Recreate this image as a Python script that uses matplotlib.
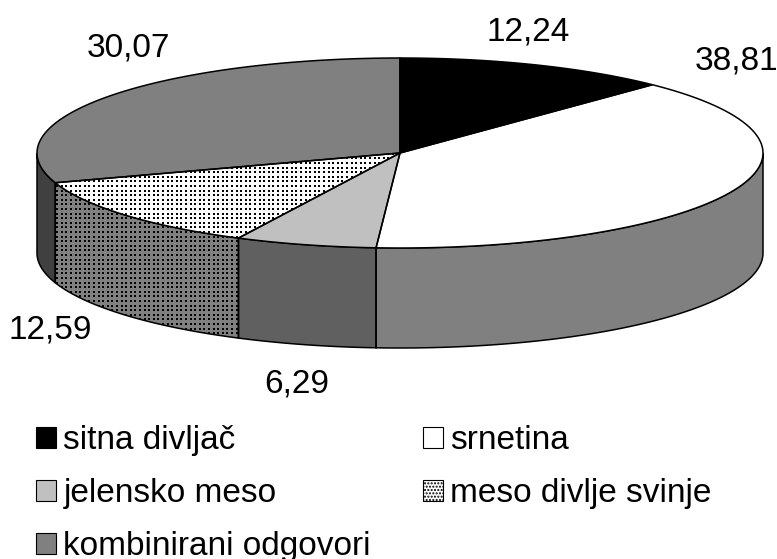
import numpy as np
import matplotlib
matplotlib.use('Agg')
import matplotlib.pyplot as plt
from matplotlib.patches import Patch, Polygon

plt.rcParams['font.family'] = ['Liberation Sans', 'DejaVu Sans']

# Udio odgovora po vrsti mesa (%)
names = ['sitna divljač', 'srnetina', 'jelensko meso', 'meso divlje svinje', 'kombinirani odgovori']
values = [12.24, 38.81, 6.29, 12.59, 30.07]
value_labels = ['12,24', '38,81', '6,29', '12,59', '30,07']
top_colors = ['#000000', '#ffffff', '#c0c0c0', '#ffffff', '#808080']
side_colors = ['#000000', '#808080', '#606060', '#808080', '#404040']

# Geometry of the tilted disc
cx, cy = 400, 153
rx, ry = 363, 95
depth = 100
label_pos = [(528, 32), (736, 61), (297, 384), (50, 330), (128, 48)]

fig = plt.figure(figsize=(7.77, 5.59), dpi=100)
ax = fig.add_axes([0, 0, 1, 1])
ax.set_xlim(0, 777)
ax.set_ylim(559, 0)
ax.axis('off')


def rim(a0, a1, n=80):
    # angles run clockwise from twelve o'clock
    t = np.radians(np.linspace(a0, a1, n))
    return np.column_stack([cx + rx * np.sin(t), cy - ry * np.cos(t)])


def dots(patch, color='black'):
    # square dot screen, clipped to the patch
    gx, gy = np.meshgrid(np.arange(2, 777, 4.6), np.arange(2, 559, 4.6))
    line, = ax.plot(gx.ravel(), gy.ravel(), ls='none', marker='s', ms=1.7, mew=0,
                    color=color, zorder=patch.get_zorder())
    line.set_clip_path(patch)


edges = np.concatenate([[0], np.cumsum(values)]) * 3.6

# outer wall, only the front half of the disc shows
for i in range(len(values)):
    a0, a1 = max(edges[i], 90), min(edges[i + 1], 270)
    if a0 >= a1:
        continue
    arc = rim(a0, a1)
    pts = np.vstack([arc, arc[::-1] + [0, depth]])
    wall = Polygon(pts, closed=True, fc=side_colors[i], ec='none', zorder=2)
    ax.add_patch(wall)
    if i == 3:
        dots(wall)
    ax.add_patch(Polygon(pts, closed=True, fc='none', ec='black', lw=1.1, zorder=2.5))

# top face
for i in range(len(values)):
    pts = np.vstack([[cx, cy], rim(edges[i], edges[i + 1])])
    face = Polygon(pts, closed=True, fc=top_colors[i], ec='none', zorder=3)
    ax.add_patch(face)
    if i == 3:
        dots(face)
    ax.add_patch(Polygon(pts, closed=True, fc='none', ec='black', lw=1.1, zorder=3.5))

for (x, y), txt in zip(label_pos, value_labels):
    ax.text(x, y, txt, fontsize=24, ha='center', va='center', color='black')

# legend fills by column, hence the order here
order = [0, 2, 4, 1, 3]
handles = []
for i in order:
    handles.append(Patch(fc=top_colors[i], ec='black', lw=0.8,
                         hatch='.....' if i == 3 else None, label=names[i]))
ax.legend(handles=handles, ncol=2, loc='upper left', bbox_to_anchor=(36, 425),
          bbox_transform=ax.transData, frameon=False, fontsize=24, borderpad=0,
          borderaxespad=0, handlelength=0.6, handleheight=0.6, handletextpad=0.22,
          labelspacing=0.66, columnspacing=1.56)

fig.savefig('out.png', dpi=100)
